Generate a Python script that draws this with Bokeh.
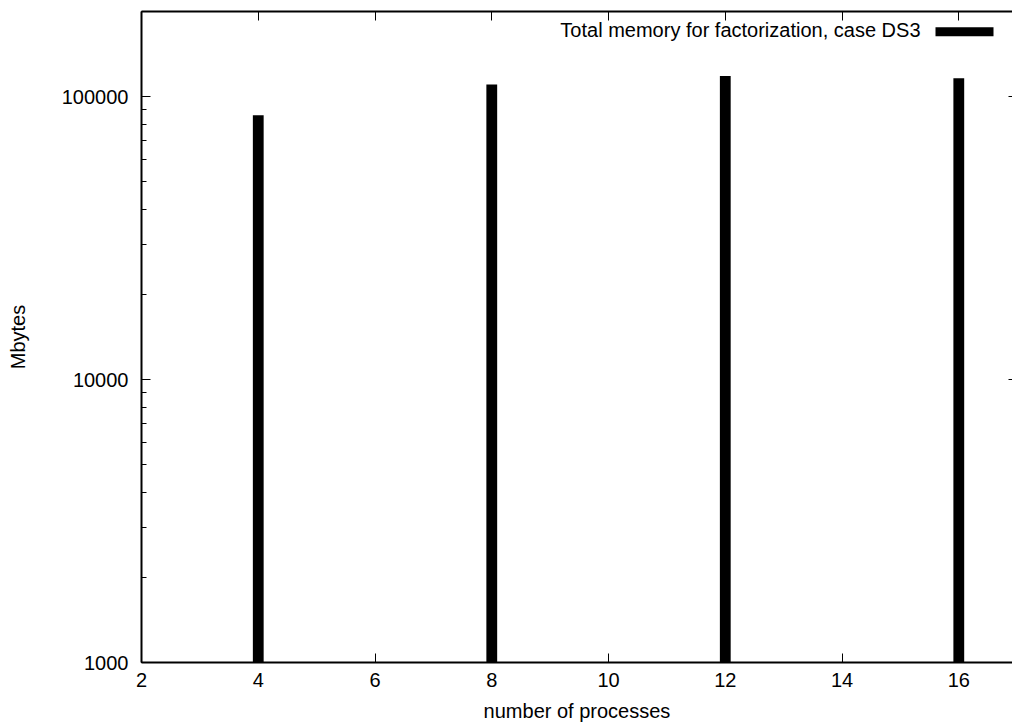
from bokeh.plotting import figure
from bokeh.models import (LogAxis, LinearAxis, FixedTicker, LogTicker, PrintfTickFormatter,
                          Label, BoxAnnotation, Range1d, ColumnDataSource)
from bokeh.embed import file_html
from bokeh.resources import INLINE

# Total factorization memory (MB) per process count
processes = [4, 8, 12, 16]
memory_mb = [86000, 110500, 118300, 116200]

x_ticks = [2, 4, 6, 8, 10, 12, 14, 16]
y_ticks = [1000, 10000, 100000]
series_label = "Total memory for factorization, case DS3"
x_title = "number of processes"
y_title = "Mbytes"

FONT = "Liberation Sans"
FSIZE = "20px"

p = figure(width=1012, height=726,
           x_range=Range1d(2, 16.92), y_range=Range1d(1000, 200000),
           y_axis_type="log", output_backend="svg", toolbar_location=None,
           min_border_left=141, min_border_right=0, min_border_top=11, min_border_bottom=64)
p.outline_line_color = None
p.grid.visible = False
p.background_fill_color = "white"
p.border_fill_color = "white"

src = ColumnDataSource(dict(x=processes, top=memory_mb))
p.vbar(x="x", top="top", bottom=y_ticks[0], width=0.185, source=src,
       fill_color="black", line_color=None)


def style_axis(ax, tick_in, minor_in, labels=True, line=True):
    ax.major_tick_in = tick_in
    ax.major_tick_out = 0
    ax.minor_tick_in = minor_in
    ax.minor_tick_out = 0
    ax.major_tick_line_color = "black"
    ax.minor_tick_line_color = "black"
    ax.major_tick_line_width = 1
    ax.minor_tick_line_width = 1
    if line:
        ax.axis_line_color = "black"
        ax.axis_line_width = 2
    else:
        ax.axis_line_color = None
    if labels:
        ax.major_label_text_font = FONT
        ax.major_label_text_font_size = FSIZE
        ax.major_label_text_color = "black"
        ax.axis_label_text_font = FONT
        ax.axis_label_text_font_size = FSIZE
        ax.axis_label_text_font_style = "normal"
        ax.axis_label_text_color = "black"
    else:
        # mirrored axis: ticks only, labels not painted
        ax.major_label_text_font_size = "1px"
        ax.major_label_text_color = None
        ax.major_label_standoff = 0


# bottom axis
xa = p.xaxis[0]
xa.ticker = FixedTicker(ticks=x_ticks, minor_ticks=[])
xa.axis_label = x_title
style_axis(xa, 9, 0)
xa.major_label_standoff = 10
xa.axis_label_standoff = 10

# left axis
ya = p.yaxis[0]
ya.ticker = LogTicker(desired_num_ticks=3, num_minor_ticks=10)
ya.formatter = PrintfTickFormatter(format="%d")
ya.axis_label = y_title
style_axis(ya, 9, 5)
ya.major_label_standoff = 13
ya.axis_label_standoff = 30

# mirrored ticks on top and right
top_ax = LinearAxis(ticker=FixedTicker(ticks=x_ticks, minor_ticks=[]))
style_axis(top_ax, 9, 0, labels=False)
p.add_layout(top_ax, "above")

right_ax = LogAxis(ticker=LogTicker(desired_num_ticks=3, num_minor_ticks=10))
style_axis(right_ax, 4, 0, labels=False, line=False)
p.add_layout(right_ax, "right")

# key: label to the left of a filled sample box
p.add_layout(Label(x=779, y=632.5, x_units="screen", y_units="screen", text=series_label,
                   text_font=FONT, text_font_size=FSIZE, text_color="black",
                   text_align="right", text_baseline="alphabetic"))
p.add_layout(BoxAnnotation(left=794, right=852, bottom=626.3, top=635.3,
                           left_units="screen", right_units="screen",
                           bottom_units="screen", top_units="screen",
                           fill_color="black", fill_alpha=1.0, line_color=None))

open("out.html", "w").write(file_html(p, INLINE))
